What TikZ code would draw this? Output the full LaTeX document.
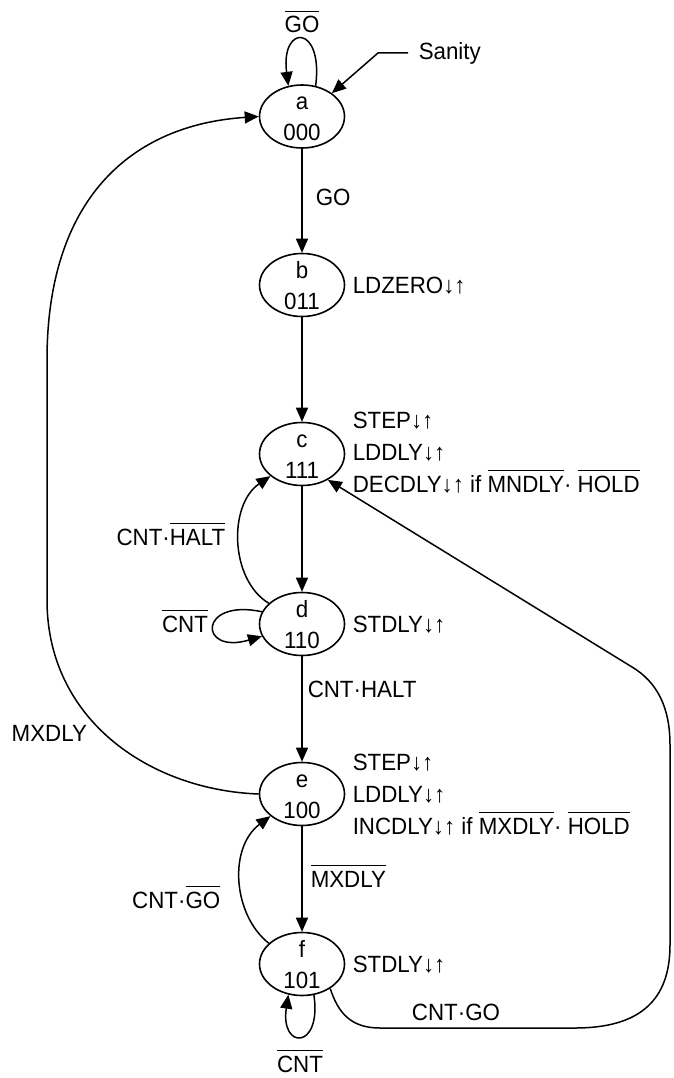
\documentclass[tikz,border=0pt]{standalone}
\usepackage{fontspec}
\setmainfont{Liberation Sans}[FakeStretch=0.95]
\usetikzlibrary{arrows.meta,shapes.geometric}
\newcommand\ovl[1]{\leavevmode\vbox{\hrule height 1.2pt\kern 4.5pt\hbox{#1}}}
\begin{document}
\begin{tikzpicture}[x=1pt,y=-1pt,
  font=\fontsize{23.5}{28}\selectfont,
  line width=1.5pt,
  arr/.style={-{Triangle[length=14pt,width=12pt]}},
  state/.style={draw, ellipse, line width=1.6pt, minimum width=85pt, minimum height=63pt, inner sep=0pt},
  lbl/.style={inner sep=0pt, anchor=base west},
  lblc/.style={inner sep=0pt, anchor=base},
  lble/.style={inner sep=0pt, anchor=base east}]
\useasboundingbox (0,0) rectangle (673,1078);

% states
\node[state] (a) at (302,116.5) {};
\node[state] (b) at (302,285) {};
\node[state] (c) at (302,454) {};
\node[state] (d) at (302,624) {};
\node[state] (e) at (302,794) {};
\node[state] (f) at (302,964) {};

\node[lblc] (aL) at (302,109.5) {a};
\node[lblc] (aN) at (302,140.5) {000};
\node[lblc] (bL) at (302,278) {b};
\node[lblc] (bN) at (302,309.5) {011};
\node[lblc] (cL) at (302,447) {c};
\node[lblc] (cN) at (302,478.5) {111};
\node[lblc] (dL) at (302,617) {d};
\node[lblc] (dN) at (302,648.5) {110};
\node[lblc] (eL) at (302,787) {e};
\node[lblc] (eN) at (302,818.5) {100};
\node[lblc] (fL) at (302,957) {f};
\node[lblc] (fN) at (302,988.5) {101};

% a self loop and sanity
\draw[arr] (a.66) .. controls +(8,-62) and +(-8,-62) .. (a.114);
\node[lblc] (lnGO) at (302,33) {\ovl{GO}};
\node[anchor=west, inner sep=0pt] (san) at (418,53) {Sanity};
\coordinate (sanK) at (378,53);
\draw[arr] ([xshift=-10pt]san.west) -- (sanK) -- (a.38);

% main chain
\draw[arr] (a) -- (b);
\node[lbl] (lGO) at (315,205) {GO};
\draw[arr] (b) -- (c);
\draw[arr] (c) -- (d);
\draw[arr] (d) -- (e);
\node[lbl] (lCH) at (307,697) {CNT·HALT};
\draw[arr] (e) -- (f);
\node[lbl] (lnMX) at (310,887) {\ovl{MXDLY}};

% d -> c
\draw[arr] (d.148) .. controls (230,580) and (228,505) .. (c.215);
\node[lble] (lCnH) at (226,545) {CNT·\ovl{HALT}};
% d loop
\draw[arr] (d.163) .. controls (198,598) and (198,655) .. (d.197);
\node[lblc] (lnCd) at (185,632) {\ovl{CNT}};

% f -> e
\draw[arr] (f.148) .. controls (233,915) and (228,848) .. (e.215);
\node[lble] (lCnG) at (221,908) {CNT·\ovl{GO}};
% f loop
\draw[arr] (f.291) .. controls (322,1050) and (280,1050) .. (f.246);
\node[lblc] (lnCf) at (300,1072) {\ovl{CNT}};

% e -> a
\draw[arr] (e.west) .. controls (150,790) and (47,720) .. (47,600) -- (47,360) .. controls (47,200) and (130,125) .. (a.west);
\node[lbl] (lMX) at (11,741) {MXDLY};

% f -> c
\draw[arr] (f.-41) .. controls (338,1012) and (350,1028) .. (380,1028) -- (575,1028) .. controls (640,1028) and (670,1000) .. (670,945) -- (670,745) .. controls (670,707) and (657,682) .. (632,667) -- (c.-45);
\node[lblc] (lCG) at (456,1020) {CNT·GO};

% output labels
\node[lbl] (ob) at (352,293) {LDZERO↓↑};
\node[lbl] (oc1) at (352,428) {STEP↓↑};
\node[lbl] (oc2) at (352,460) {LDDLY↓↑};
\node[lbl] (oc3) at (352,492) {DECDLY↓↑ if \ovl{MNDLY}·\ \ovl{HOLD}};
\node[lbl] (od) at (352,632) {STDLY↓↑};
\node[lbl] (oe1) at (352,770) {STEP↓↑};
\node[lbl] (oe2) at (352,802) {LDDLY↓↑};
\node[lbl] (oe3) at (352,834) {INCDLY↓↑ if \ovl{MXDLY}·\ \ovl{HOLD}};
\node[lbl] (of) at (352,972) {STDLY↓↑};
\end{tikzpicture}
\end{document}
